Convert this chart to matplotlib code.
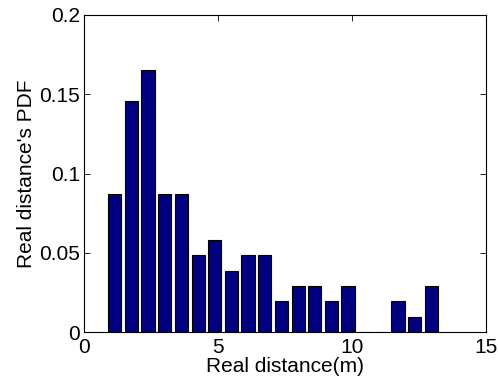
import matplotlib
matplotlib.use("Agg")
import matplotlib.pyplot as plt
import numpy as np

plt.rcParams['font.family'] = ['Liberation Sans', 'DejaVu Sans']

bin_centers = [1.15, 1.77, 2.39, 3.01, 3.63, 4.26, 4.88, 5.50, 6.12, 6.74,
               7.37, 7.99, 8.61, 9.23, 9.85, 10.48, 11.10, 11.72, 12.34, 12.96]
counts = [9, 15, 17, 9, 9, 5, 6, 4, 5, 5, 2, 3, 3, 2, 3, 0, 0, 2, 1, 3]
pdf = np.array(counts) / sum(counts)

x_ticks = [0, 5, 10, 15]
y_ticks = [0, 0.05, 0.1, 0.15, 0.2]
y_tick_labels = ['0', '0.05', '0.1', '0.15', '0.2']

fig = plt.figure(figsize=(4.98, 3.81), dpi=100)
ax = fig.add_axes([0.1687, 0.1278, 0.976 - 0.1687, 0.961 - 0.1278])

width = 0.8 * (bin_centers[1] - bin_centers[0])
ax.bar(bin_centers, pdf, width=width, color='#000080', edgecolor='black', linewidth=0.8)

fs = 15
ax.set_xlim(0, 15)
ax.set_ylim(0, 0.2)
ax.set_xticks(x_ticks)
ax.set_xticklabels([str(t) for t in x_ticks])
ax.set_yticks(y_ticks)
ax.set_yticklabels(y_tick_labels)
ax.tick_params(direction='in', top=True, right=True, labelsize=fs, length=4, width=0.6)
ax.tick_params(axis='x', pad=4)
ax.tick_params(axis='y', pad=3)
for s in ax.spines.values():
    s.set_linewidth(0.8)
ax.set_xlabel('Real distance(m)', fontsize=fs, labelpad=0)
ax.set_ylabel("Real distance's PDF", fontsize=fs, labelpad=2)

fig.savefig('out.png', dpi=100)
